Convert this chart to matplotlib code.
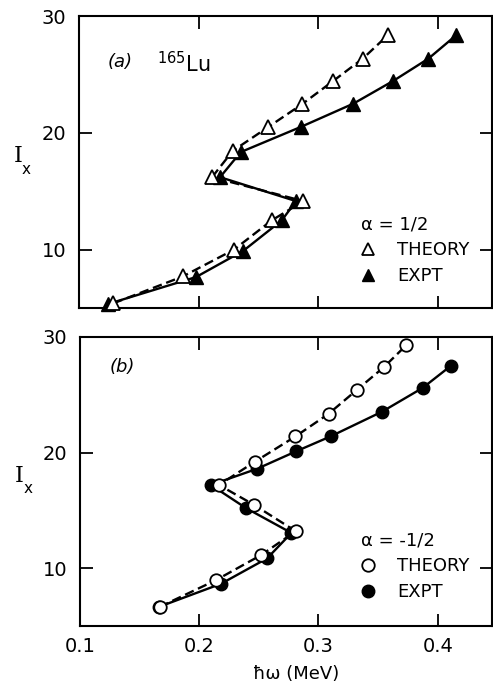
import matplotlib
matplotlib.use("Agg")
import matplotlib.pyplot as plt
from matplotlib.lines import Line2D

plt.rcParams['font.family'] = ['DejaVu Sans']

# Panel (a): alpha = 1/2
a_theory_x = [0.1287, 0.1868, 0.2297, 0.2612, 0.2877, 0.2113, 0.2286, 0.2584, 0.2866, 0.3128, 0.3374, 0.3583]
a_theory_y = [5.4, 7.7, 10.0, 12.5, 14.15, 16.2, 18.45, 20.5, 22.45, 24.45, 26.35, 28.35]
a_expt_x = [0.1245, 0.1979, 0.2375, 0.2696, 0.2816, 0.2180, 0.2353, 0.2855, 0.3296, 0.3630, 0.3923, 0.4155]
a_expt_y = [5.35, 7.65, 9.9, 12.5, 14.15, 16.2, 18.35, 20.5, 22.5, 24.45, 26.35, 28.35]

# Panel (b): alpha = -1/2
b_theory_x = [0.1667, 0.2137, 0.2521, 0.2809, 0.2456, 0.2165, 0.2465, 0.2807, 0.3084, 0.3319, 0.3549, 0.3737]
b_theory_y = [6.65, 8.95, 11.15, 13.2, 15.5, 17.2, 19.2, 21.4, 23.35, 25.4, 27.4, 29.3]
b_expt_x = [0.1661, 0.2182, 0.2569, 0.2773, 0.2392, 0.2098, 0.2485, 0.2810, 0.3101, 0.3535, 0.3874, 0.4109]
b_expt_y = [6.65, 8.65, 10.85, 13.05, 15.2, 17.2, 18.6, 20.1, 21.4, 23.55, 25.6, 27.5]

x_ticks = [0.1, 0.2, 0.3, 0.4]
x_ticklabels = ["0.1", "0.2", "0.3", "0.4"]
y_ticks = [10, 20, 30]
y_ticklabels = ["10", "20", "30"]

W, H = 493, 686
fig = plt.figure(figsize=(W / 100, H / 100), dpi=100)

def px_axes(l, t, r, b):
    return fig.add_axes([l / W, 1 - b / H, (r - l) / W, (b - t) / H])

ax1 = px_axes(79, 16, 492, 308)
ax2 = px_axes(80, 337, 492, 626)

def style(ax, show_xlabels):
    ax.set_xlim(0.1, 0.4455)
    ax.set_ylim(5, 30)
    ax.set_xticks(x_ticks)
    ax.set_yticks(y_ticks)
    ax.set_yticklabels(y_ticklabels)
    if show_xlabels:
        ax.set_xticklabels(x_ticklabels)
    else:
        ax.set_xticklabels([])
    ax.tick_params(direction='in', length=9, width=1.3, top=True, right=True,
                   labelsize=14, pad=8)
    ax.tick_params(axis='y', pad=9)
    for s in ax.spines.values():
        s.set_linewidth(1.5)
    ax.set_ylabel("I", rotation=0, fontsize=16, family='DejaVu Serif', va='center', ha='center')
    ax.yaxis.set_label_coords(-0.148, 0.52)

style(ax1, False)
style(ax2, True)

lw = 1.7
# panel a
ax1.plot(a_expt_x, a_expt_y, '-', color='black', lw=lw, marker='^', ms=10,
         mfc='black', mec='black', zorder=3, clip_on=False)
ax1.plot(a_theory_x, a_theory_y, '--', color='black', lw=lw, dashes=(4, 2), marker='^', ms=10,
         mfc='white', mec='black', mew=1.3, zorder=4, clip_on=False)
# panel b
ax2.plot(b_expt_x, b_expt_y, '-', color='black', lw=lw, marker='o', ms=9,
         mfc='black', mec='black', zorder=3, clip_on=False)
ax2.plot(b_theory_x, b_theory_y, '--', color='black', lw=lw, dashes=(4, 2), marker='o', ms=9,
         mfc='white', mec='black', mew=1.3, zorder=4, clip_on=False)

# subscript x on I
for ax in (ax1, ax2):
    ax.text(-0.127, 0.475, "x", transform=ax.transAxes, fontsize=11, ha='center', va='center')

# labels
ax1.text(0.070, 0.842, "(a)", transform=ax1.transAxes, fontsize=13, style='italic', va='center')
ax1.text(0.189, 0.808, r"$^{165}$Lu", transform=ax1.transAxes, fontsize=15, va='baseline',
         math_fontfamily='dejavusans')
ax2.text(0.073, 0.895, "(b)", transform=ax2.transAxes, fontsize=13, style='italic', va='center')

ax2.set_xlabel("ħω (MeV)", fontsize=13)
ax2.xaxis.set_label_coords(0.524, -0.135)

# legends
def add_legend(ax, marker, title, anchor):
    h1 = Line2D([], [], ls='none', marker=marker, ms=9, mfc='white', mec='black', mew=1.3)
    h2 = Line2D([], [], ls='none', marker=marker, ms=9, mfc='black', mec='black')
    leg = ax.legend([h1, h2], ["THEORY", "EXPT"], title=title, loc='upper left',
                    bbox_to_anchor=anchor, frameon=False, fontsize=13, title_fontsize=13,
                    handlelength=0.8, handletextpad=1.2, borderpad=0, borderaxespad=0,
                    labelspacing=0.45, alignment='left')
    return leg

add_legend(ax1, '^', "α = 1/2", (0.683, 0.318))
add_legend(ax2, 'o', "α = -1/2", (0.682, 0.328))

fig.savefig("out.png", dpi=100)
